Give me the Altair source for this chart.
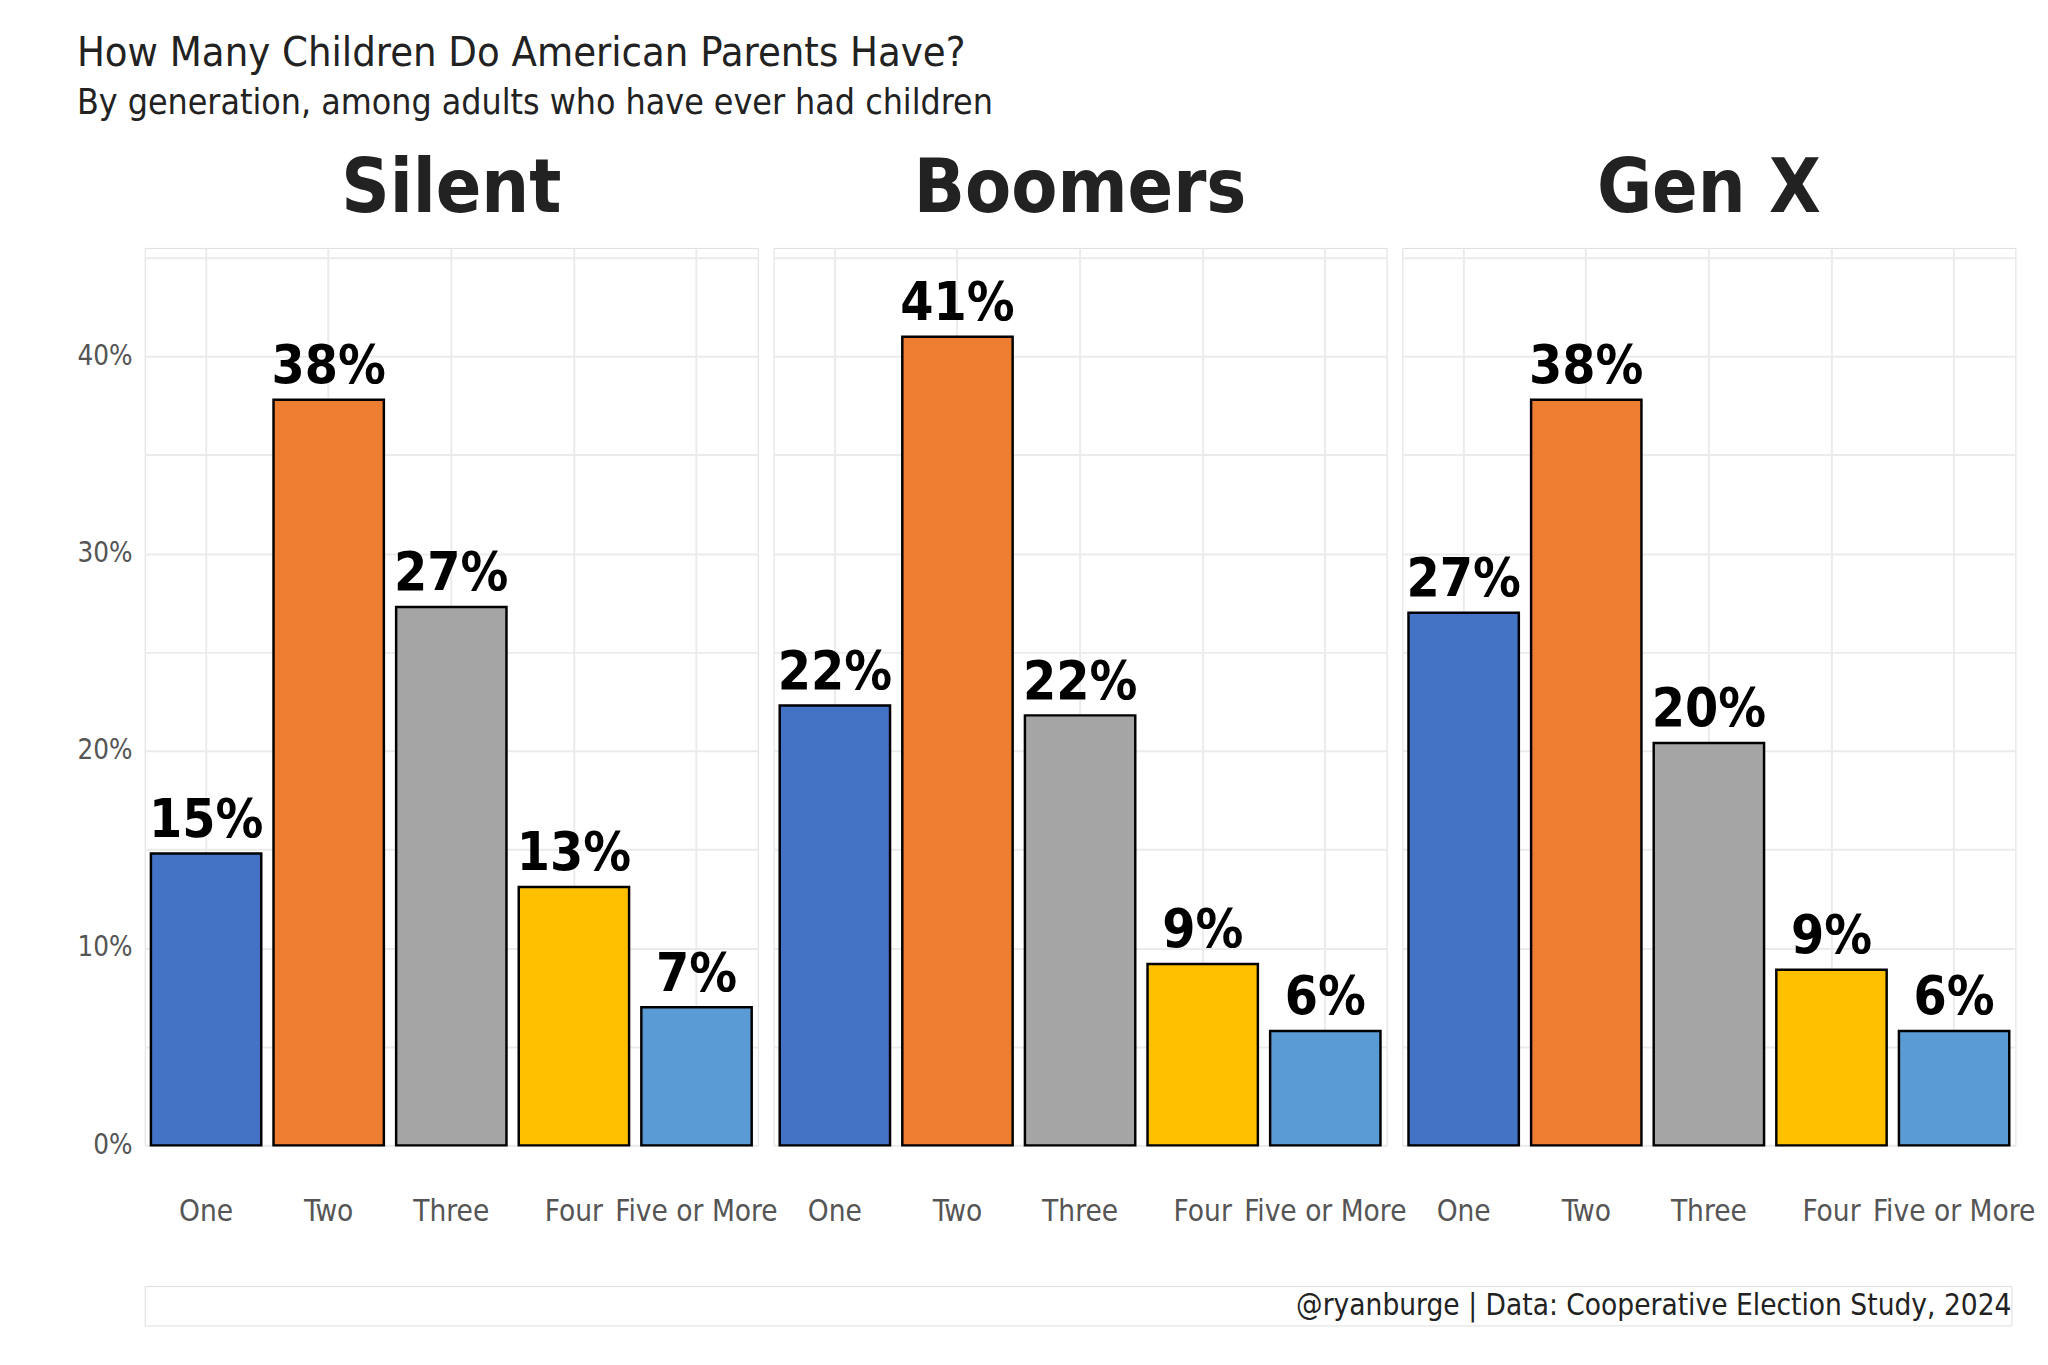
import altair as alt
import pandas as pd

generations = ["Silent", "Boomers", "Gen X"]
kids = ["One", "Two", "Three", "Four", "Five or More"]
colors = ["#4472C4", "#ED7D31", "#A5A5A5", "#FFC000", "#5B9BD5"]
silent = [14.8, 37.8, 27.3, 13.1, 7.0]
boomers = [22.3, 41.0, 21.8, 9.2, 5.8]
genx = [27.0, 37.8, 20.4, 8.9, 5.8]

rows = []
for g, vals in zip(generations, [silent, boomers, genx]):
    for k, v in zip(kids, vals):
        rows.append({"gen": g, "kids": k, "pct": v, "label": f"{round(v)}%"})
df = pd.DataFrame(rows)

FONT = "Liberation Sans Narrow, DejaVu Sans Condensed, sans-serif"

base = alt.Chart().encode(
    x=alt.X("kids:N", sort=kids, title=None,
            scale=alt.Scale(paddingInner=0.1, paddingOuter=0.05),
            axis=alt.Axis(labelAngle=0, labelFontSize=30, labelColor="#555",
                          labelFont=FONT, domain=False, ticks=False, labelPadding=50,
                          grid=True, gridColor="#ebebeb", gridWidth=2)),
    y=alt.Y("pct:Q", title=None,
            scale=alt.Scale(domain=[0, 45.5], nice=False),
            axis=alt.Axis(values=list(range(0, 50, 5)),
                          labelExpr="datum.value % 10 == 0 ? datum.value + '%' : ''",
                          labelFontSize=28, labelColor="#555", labelFont=FONT,
                          domain=False, ticks=False, gridColor="#ebebeb", gridWidth=2,
                          labelPadding=12)),
)
bars = base.mark_bar(stroke="black", strokeWidth=2.5).encode(
    color=alt.Color("kids:N", sort=kids, scale=alt.Scale(domain=kids, range=colors), legend=None)
)
labels = base.mark_text(baseline="bottom", dy=-6, fontSize=54, fontWeight="bold",
                        font=FONT, color="black").encode(text="label:N")

facet = alt.layer(bars, labels, data=df).properties(width=623, height=912).facet(
    column=alt.Column("gen:N", sort=generations, title=None,
                      header=alt.Header(labelFontSize=76, labelFontWeight="bold",
                                        labelFont=FONT, labelColor="#222", labelPadding=20))
).resolve_axis(y="shared").properties(spacing=14)

caption = alt.Chart(pd.DataFrame({"t": ["@ryanburge | Data: Cooperative Election Study, 2024"]})).mark_text(
    align="right", baseline="middle", fontSize=30, font=FONT, color="#222"
).encode(text="t:N", x=alt.value(1897), y=alt.value(20)).properties(width=1897, height=40)

chart = alt.vconcat(facet, caption, spacing=60).properties(
    padding={"left": 70, "top": 14, "right": 5, "bottom": 5},
    title=alt.Title("How Many Children Do American Parents Have?",
                    subtitle="By generation, among adults who have ever had children",
                    anchor="start", fontSize=42, subtitleFontSize=36, font=FONT,
                    subtitleFont=FONT, fontWeight="normal", color="#222",
                    subtitleColor="#222", offset=30, subtitlePadding=12)
).configure_view(stroke="transparent").configure(background="white")

chart.save("out.html", embed_options={"renderer": "svg", "actions": False})
